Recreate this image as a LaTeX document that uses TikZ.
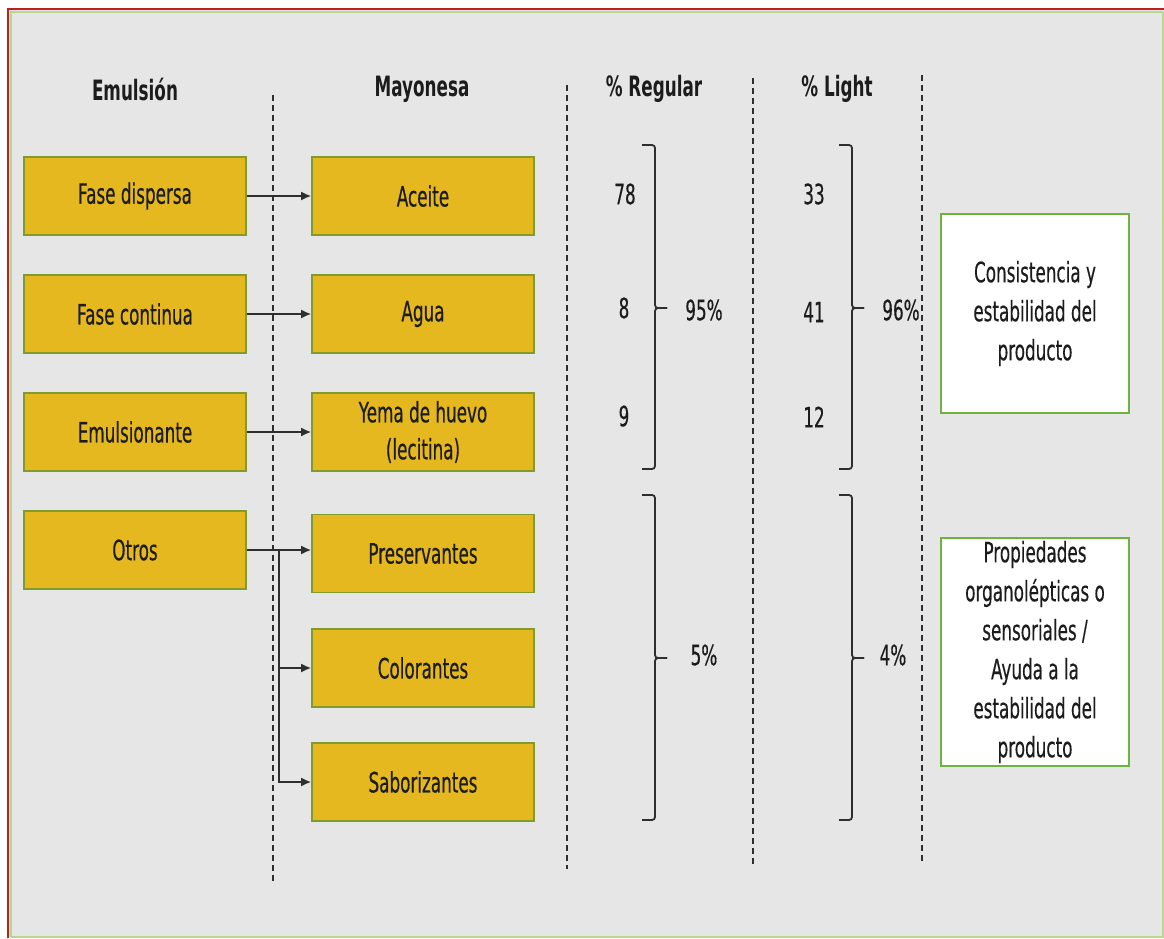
\documentclass[tikz,border=0pt]{standalone}
\usepackage{fontspec}
\setmainfont{DejaVu Sans}[FakeStretch=0.6,
  UprightFeatures={FakeBold=0.4}]
\usetikzlibrary{arrows.meta}
\definecolor{bggray}{HTML}{E6E6E6}
\definecolor{boxyellow}{HTML}{E4B81E}
\definecolor{boxedge}{HTML}{7E9D2C}
\definecolor{notegreen}{HTML}{6CB33F}
\definecolor{framered}{HTML}{C0201A}
\definecolor{framegreen}{HTML}{B9D68E}
\definecolor{inkdark}{HTML}{1C1C1C}
\definecolor{linegray}{HTML}{2E2E2E}
\tikzset{
  ybox/.style={draw=boxedge, line width=1.6pt, fill=boxyellow, minimum width=222pt,
    minimum height=78pt, inner sep=0pt, align=center, text=inkdark,
    font=\fontsize{28}{37}\selectfont},
  notebox/.style={draw=notegreen, line width=1.6pt, fill=white, minimum width=188pt,
    inner sep=0pt, align=center, text=inkdark, font=\fontsize{28}{39}\selectfont},
  header/.style={font=\fontsize{28}{34}\selectfont\bfseries, text=inkdark},
  numtxt/.style={font=\fontsize{28}{34}\selectfont, text=inkdark},
  divider/.style={draw=linegray, line width=1.4pt, dash pattern=on 6pt off 4pt},
  link/.style={draw=linegray, line width=1.8pt, -{Latex[length=10pt,width=9pt]}},
  brace/.style={draw=linegray, line width=1.8pt, rounded corners=3pt},
}
\begin{document}
\begin{tikzpicture}[x=1pt,y=-1pt]
  % page and slide frame
  \fill[white] (0,0) rectangle (1164,938);
  \useasboundingbox (0,0) rectangle (1164,938);
  \fill[bggray] (8,9) rectangle (1164,938);
  \draw[framegreen, line width=2pt] (11,937) -- (1163,937) -- (1163,12);
  \draw[framegreen, line width=1.5pt] (11,937) -- (11,12) -- (1163,12);
  \draw[framered, line width=2.2pt] (8,938) -- (8,9) -- (1164,9);

  % column headers
  \node[header] (hemul) at (135,89) {Emulsión};
  \node[header] (hmayo) at (422,89) {Mayonesa};
  \node[header] (hreg) at (654,89) {\% Regular};
  \node[header] (hlight) at (837,89) {\% Light};

  % column dividers
  \coordinate (d1t) at (273,95);  \coordinate (d1b) at (273,882);
  \coordinate (d2t) at (567,85);  \coordinate (d2b) at (567,869);
  \coordinate (d3t) at (753,78);  \coordinate (d3b) at (753,864);
  \coordinate (d4t) at (922,75);  \coordinate (d4b) at (922,864);
  \draw[divider] (d1t) -- (d1b);
  \draw[divider] (d2t) -- (d2b);
  \draw[divider] (d3t) -- (d3b);
  \draw[divider] (d4t) -- (d4b);

  % emulsion parts
  \node[ybox] (fdis) at (135,196) {Fase dispersa};
  \node[ybox] (fcon) at (135,314) {Fase continua};
  \node[ybox] (emul) at (135,432) {Emulsionante};
  \node[ybox] (otro) at (135,550) {Otros};

  % mayonnaise ingredients
  \node[ybox] (acei) at (423,196) {Aceite};
  \node[ybox] (agua) at (423,314) {Agua};
  \node[ybox] (yema) at (423,432) {Yema de huevo\\(lecitina)};
  \node[ybox] (pres) at (423,553.5) {Preservantes};
  \node[ybox] (colo) at (423,668) {Colorantes};
  \node[ybox] (sabo) at (423,782) {Saborizantes};

  % connectors
  \draw[link] (fdis.east) -- (acei.west);
  \draw[link] (fcon.east) -- (agua.west);
  \draw[link] (emul.east) -- (yema.west);
  \coordinate (split) at (279,550);
  \draw[link] (otro.east) -- (otro.east -| pres.west);
  \draw[link] (split) |- (colo.west);
  \draw[link] (split) |- (sabo.west);

  % regular percentages
  \node[numtxt] (r1) at (625,194) {78};
  \node[numtxt] (r2) at (624,308) {8};
  \node[numtxt] (r3) at (624,416) {9};
  \node[numtxt] (rsum) at (704,310) {95\%};
  \node[numtxt] (rrest) at (704,655) {5\%};

  % light percentages
  \node[numtxt] (l1) at (814,194) {33};
  \node[numtxt] (l2) at (814,312) {41};
  \node[numtxt] (l3) at (814,417) {12};
  \node[numtxt] (lsum) at (901,310) {96\%};
  \node[numtxt] (lrest) at (893,655) {4\%};

  % grouping braces
  \draw[brace] (642,145) -- (655,145) -- (655,308) -- (667,308);
  \draw[brace] (667,308) -- (655,308) -- (655,469) -- (642,469);
  \draw[brace] (642,495) -- (655,495) -- (655,658) -- (667,658);
  \draw[brace] (667,658) -- (655,658) -- (655,820) -- (642,820);
  \draw[brace] (839,145) -- (852,145) -- (852,308) -- (864,308);
  \draw[brace] (864,308) -- (852,308) -- (852,469) -- (839,469);
  \draw[brace] (839,495) -- (852,495) -- (852,658) -- (864,658);
  \draw[brace] (864,658) -- (852,658) -- (852,820) -- (839,820);

  % role notes
  \node[notebox, minimum height=199pt] (role1) at (1035,313.5)
    {Consistencia y\\estabilidad del\\producto};
  \node[notebox, minimum height=228pt] (role2) at (1035,652)
    {Propiedades\\organolépticas o\\sensoriales /\\Ayuda a la\\estabilidad del\\producto};
\end{tikzpicture}
\end{document}
